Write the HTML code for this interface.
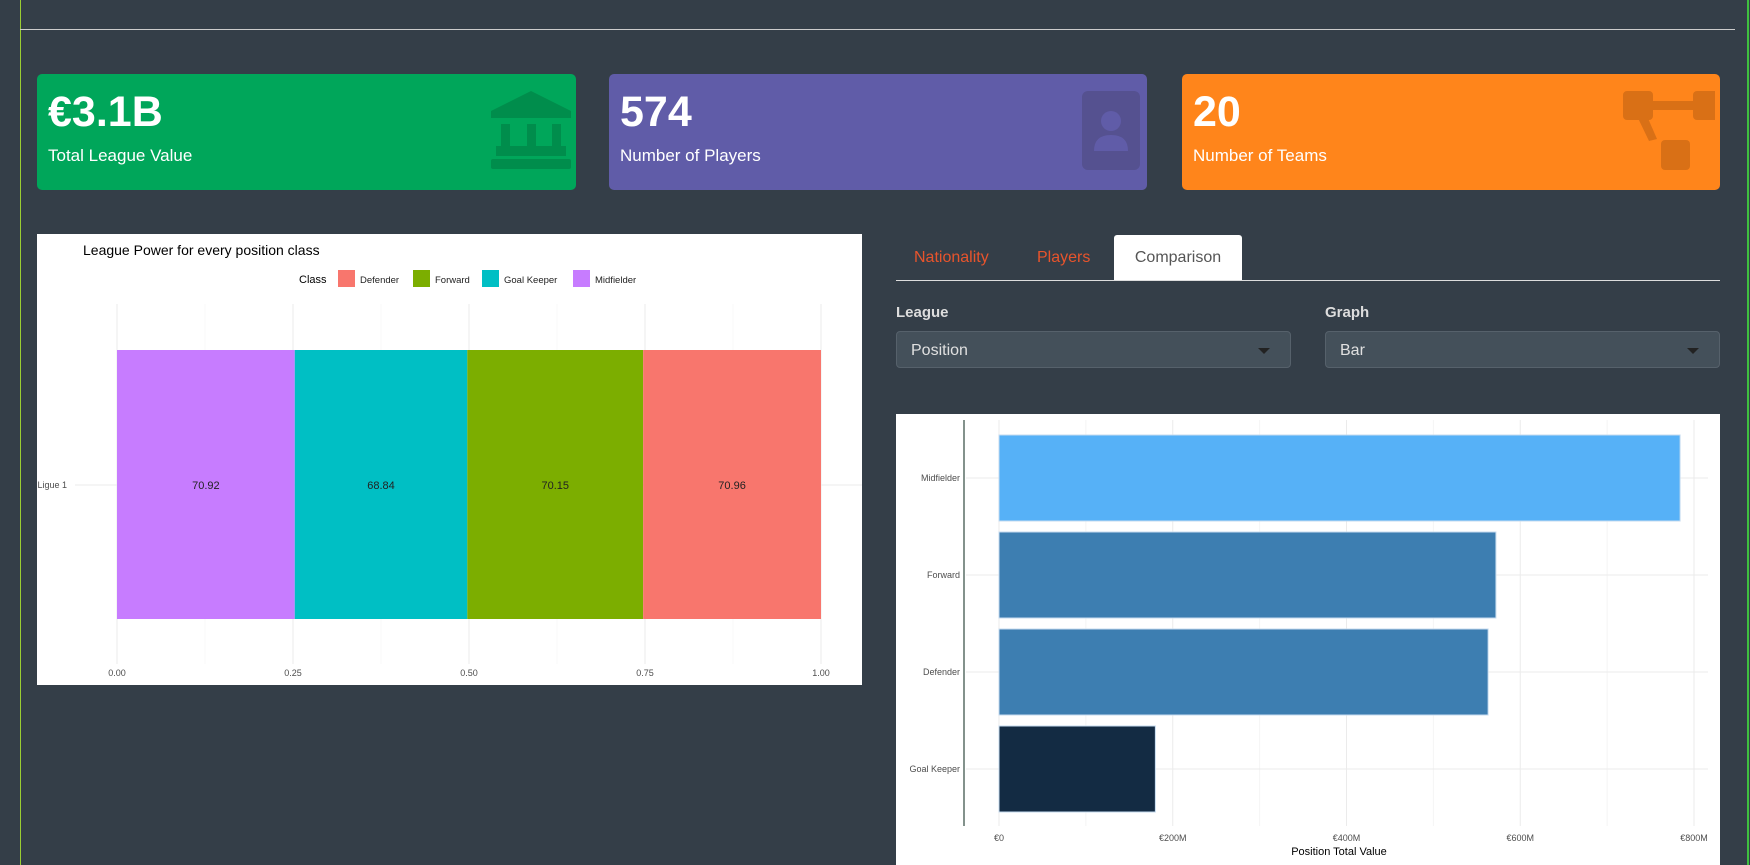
<!DOCTYPE html>
<html><head><meta charset="utf-8">
<style>
body{margin:0;width:1750px;height:865px;background:#343e48;overflow:hidden;font-family:"Liberation Sans",sans-serif;position:relative}
.abs{position:absolute}
.box{position:absolute;top:74px;height:116px;border-radius:5px;color:#fff}
.box .num{position:absolute;left:11px;top:14px;font-size:43px;font-weight:bold}
.box .lbl{position:absolute;left:11px;top:72px;font-size:17px}
.tab{position:absolute;top:235px;height:45px;line-height:45px;font-size:16px;color:#e8542c}
.sel{position:absolute;top:331px;height:37px;background:#44505a;border:1px solid #56616b;border-radius:4px;color:#e0e0e0;font-size:16px;line-height:37px;box-sizing:border-box;padding-left:14px}
.sel .arr{position:absolute;right:20px;top:16px;width:0;height:0;border-left:6px solid transparent;border-right:6px solid transparent;border-top:6px solid #222}
.flab{position:absolute;top:304px;font-size:15px;font-weight:bold;color:#ddd}
</style></head><body>
<div class="abs" style="left:20px;top:0;width:1px;height:865px;background:#9acd32"></div>
<div class="abs" style="left:1747px;top:0;width:2px;height:865px;background:#3fc03f"></div>
<div class="abs" style="left:20px;top:29px;width:1715px;height:1px;background:#ccc"></div>

<div class="box" style="left:37px;width:539px;background:#00a65a">
 <div class="num">€3.1B</div>
 <div class="lbl">Total League Value</div>
 <svg class="abs" style="left:454px;top:17px" width="80" height="80"><g fill="#008d4c"><polygon points="40,0 80,20 80,27 0,27 0,20"/><rect x="10" y="33" width="9" height="30"/><rect x="36" y="33" width="9" height="30"/><rect x="61" y="33" width="9" height="30"/><rect x="5" y="55" width="70" height="10"/><rect x="0" y="68" width="80" height="10" rx="2"/></g></svg>
</div>
<div class="box" style="left:609px;width:538px;background:#605ca8">
 <div class="num">574</div>
 <div class="lbl">Number of Players</div>
 <svg class="abs" style="left:473px;top:17px" width="60" height="80"><rect x="0" y="0" width="58" height="79" rx="6" fill="#555190"/><circle cx="29" cy="30" r="10" fill="#605ca8"/><path d="M12 60 Q12 44 29 44 Q46 44 46 60 Z" fill="#605ca8"/></svg>
</div>
<div class="box" style="left:1182px;width:538px;background:#ff851b">
 <div class="num">20</div>
 <div class="lbl">Number of Teams</div>
 <svg class="abs" style="left:433px;top:17px" width="100" height="80"><g fill="#d97016"><rect x="8" y="0" width="30" height="29" rx="4"/><rect x="78" y="0" width="30" height="29" rx="4"/><rect x="35" y="10" width="45" height="9"/><polygon points="22,25 32,25 42,48 34,50"/><rect x="46" y="49" width="29" height="30" rx="4"/></g></svg>
</div>

<!-- left chart -->
<svg class="abs" id="left" style="left:37px;top:234px" width="825" height="451"></svg>

<!-- tabs -->
<div class="tab" style="left:914px">Nationality</div>
<div class="tab" style="left:1037px">Players</div>
<div class="tab" style="left:1114px;width:128px;background:#fff;color:#555;text-align:center;border-radius:3px 3px 0 0">Comparison</div>
<div class="abs" style="left:896px;top:280px;width:824px;height:1px;background:#ddd"></div>

<div class="flab" style="left:896px">League</div>
<div class="flab" style="left:1325px">Graph</div>
<div class="sel" style="left:896px;width:395px">Position<div class="arr"></div></div>
<div class="sel" style="left:1325px;width:395px">Bar<div class="arr"></div></div>

<svg class="abs" id="right" style="left:896px;top:414px" width="824" height="451"></svg>

<script>
const NS='http://www.w3.org/2000/svg';
function mk(p,t,a){const e=document.createElementNS(NS,t);for(const k in a)e.setAttribute(k,a[k]);p.appendChild(e);return e;}

// left chart data
const classes=['Midfielder','Goal Keeper','Forward','Defender'];
const power=[70.92,68.84,70.15,70.96];
const classColors=['#c77cff','#00bfc4','#7cae00','#f8766d'];
const legendOrder=['Defender','Forward','Goal Keeper','Midfielder'];
const xTicks=[0,0.25,0.5,0.75,1];

(function(){
 const s=document.getElementById('left');
 mk(s,'rect',{x:0,y:0,width:825,height:451,fill:'#fff'});
 const x0=80,x1=784,yT=70,yB=430;
 const X=v=>x0+v*(x1-x0);
 for(let i=0;i<=8;i++){const g=mk(s,'line',{x1:X(i/8),x2:X(i/8),y1:yT,y2:yB,stroke:i%2?'#f4f4f4':'#ebebeb','stroke-width':i%2?0.6:1});}
 const gl=mk(s,'line',{x1:x0-42,x2:x1+45,y1:251,y2:251,stroke:'#ebebeb'});
 
 const t=mk(s,'text',{x:46,y:21,'font-size':14,fill:'#000'});t.textContent='League Power for every position class';
 
 const tot=power.reduce((a,b)=>a+b,0);let c=0;
 power.forEach((v,i)=>{const a=c/tot,b=(c+v)/tot;c+=v;
  const r=mk(s,'rect',{x:X(a),y:116,width:X(b)-X(a),height:269,fill:classColors[i]});
  
  const l=mk(s,'text',{x:(X(a)+X(b))/2,y:255,'font-size':11,'text-anchor':'middle',fill:'#222'});l.textContent=v.toFixed(2);
  
 });
 xTicks.forEach(v=>{const l=mk(s,'text',{x:X(v),y:442,'font-size':9,'text-anchor':'middle',fill:'#4d4d4d'});l.textContent=v.toFixed(2);
  });
 const yl=mk(s,'text',{x:30,y:254,'font-size':9,'text-anchor':'end',fill:'#4d4d4d'});yl.textContent='Ligue 1';
 
 const ct=mk(s,'text',{x:262,y:49,'font-size':11,fill:'#000'});ct.textContent='Class';
 
 const lx=[301,376,445,536];
 legendOrder.forEach((n,i)=>{const ci=classes.indexOf(n);
  const r=mk(s,'rect',{x:lx[i],y:36,width:17,height:17,fill:classColors[ci]});
  
  const l=mk(s,'text',{x:lx[i]+22,y:49,'font-size':9.5,fill:'#222'});l.textContent=n;
  });
})();

// right chart data
const positions=['Midfielder','Forward','Defender','Goal Keeper'];
const totals=[784,572,563,180];
const barColors=['#56b1f7','#3d7eb1','#3d7eb1','#132b43'];
const valTicks=[0,200,400,600,800];
const valLabels=['€0','€200M','€400M','€600M','€800M'];

(function(){
 const s=document.getElementById('right');
 mk(s,'rect',{x:0,y:0,width:824,height:451,fill:'#fff'});
 const x0=103,x1=798,yT=6,yB=412;
 const X=v=>x0+v/800*(x1-x0);
 for(let v=-100;v<=900;v+=100){const px=X(v);if(px<70||px>812)continue;
  const g=mk(s,'line',{x1:px,x2:px,y1:yT,y2:yB,stroke:v%200?'#f4f4f4':'#ebebeb'});}
 const step=97;
 positions.forEach((p,i)=>{const cy=64+i*step;
  const g=mk(s,'line',{x1:70,x2:812,y1:cy,y2:cy,stroke:'#ebebeb'});
  const r=mk(s,'rect',{x:X(0),y:cy-43,width:X(totals[i])-X(0),height:86,fill:barColors[i],stroke:'#c6dbef','stroke-width':1});
  
  const l=mk(s,'text',{x:64,y:cy+3,'font-size':9,'text-anchor':'end',fill:'#4d4d4d'});l.textContent=p;
  
 });
 const ax=mk(s,'line',{x1:68,x2:68,y1:6,y2:412,stroke:'#5a6e66','stroke-width':1.5});
 
 valTicks.forEach((v,i)=>{const l=mk(s,'text',{x:X(v),y:427,'font-size':9,'text-anchor':'middle',fill:'#4d4d4d'});l.textContent=valLabels[i];
  });
 const at=mk(s,'text',{x:443,y:441,'font-size':11,'text-anchor':'middle',fill:'#000'});at.textContent='Position Total Value';
 
})();
</script>
</body></html>
